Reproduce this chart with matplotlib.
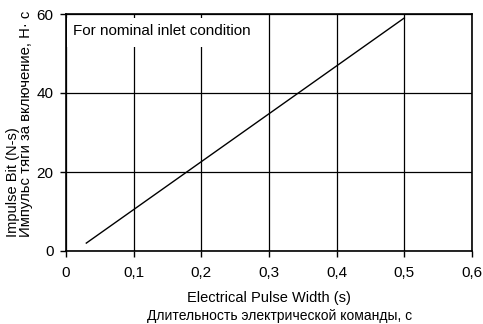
import matplotlib
matplotlib.use('Agg')
import matplotlib.pyplot as plt
from matplotlib.patches import Rectangle

pulse_width = [0.03, 0.5]
impulse_bit = [2.0, 59.0]
xticks = [0, 0.1, 0.2, 0.3, 0.4, 0.5, 0.6]
xlabels = ['0', '0,1', '0,2', '0,3', '0,4', '0,5', '0,6']
yticks = [0, 20, 40, 60]

plt.rcParams['font.family'] = ['Liberation Sans', 'DejaVu Sans']
plt.rcParams['font.size'] = 10

fig = plt.figure(figsize=(4.83, 3.24), dpi=100)
ax = fig.add_axes([66/483, 1-251/324, (472-66)/483, (251-14)/324])

ax.plot(pulse_width, impulse_bit, color='black', linewidth=1, zorder=3)
ax.set_xlim(0, 0.6)
ax.set_ylim(0, 60)
ax.set_xticks(xticks)
ax.set_xticklabels(xlabels)
ax.set_yticks(yticks)
ax.grid(True, color='black', linewidth=0.9)
ax.set_axisbelow(True)
for s in ax.spines.values():
    s.set_linewidth(1.2)
ax.tick_params(direction='out', length=4, width=1, labelsize=11, pad=5)
ax.tick_params(axis='x', pad=7)

# white box behind the note hides the grid lines
ax.add_patch(Rectangle((0.002, 51.6), 0.292, 7.4, facecolor='white', edgecolor='none', zorder=2))
ax.text(0.0105, 55.6, 'For nominal inlet condition', fontsize=11, va='center', ha='left', zorder=4)

fig.text(269/483, 1-298/324, 'Electrical Pulse Width (s)', ha='center', va='center', fontsize=10.5)
fig.text(280/483, 1-316/324, 'Длительность электрической команды, с', ha='center', va='center', fontsize=10)
fig.text(13/483, 1-237/324, 'Impulse Bit (N-s)', rotation=90, ha='center', va='bottom', fontsize=10.5)
fig.text(26/483, 1-237/324, 'Импульс тяги за включение, Н· с', rotation=90, ha='center', va='bottom', fontsize=10.7)

fig.savefig('out.png', dpi=100)
